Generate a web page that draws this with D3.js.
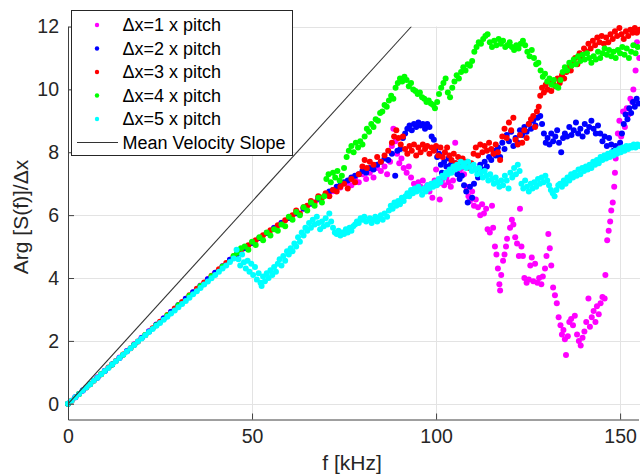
<!DOCTYPE html>
<html>
<head>
<meta charset="utf-8">
<script src="https://cdn.jsdelivr.net/npm/d3@7"></script>
<style>
  body { margin: 0; background: #fff; }
  svg { display: block; font-family: "Liberation Sans", Arial, sans-serif; }
</style>
</head>
<body>
<div id="chart"></div>
<script>
// ---- data: [f kHz, Arg[S(f)]/dx] ----
const xTicks = [0, 50, 100, 150];
const yTicks = [0, 2, 4, 6, 8, 10, 12];
const seriesNames = ["\u0394x=1 x pitch", "\u0394x=2 x pitch", "\u0394x=3 x pitch", "\u0394x=4 x pitch", "\u0394x=5 x pitch"];
const seriesColors = ["#ff00ff", "#0000ff", "#ff0000", "#00ff00", "#00ffff"];
const lineName = "Mean Velocity Slope";

const dx1 = [[0,0],[2,0.21],[4,0.42],[6,0.63],[8,0.84],[10,1.05],[12,1.26],[14,1.47],[16,1.68],[18,1.89],[20,2.1],[22,2.31],[24,2.52],[26,2.72],[28,2.93],[30,3.14],[32,3.34],[34,3.55],[36,3.76],[38,3.97],[40,4.17],[42,4.38],[44,4.58],
  [46,4.78],[48,4.96],[50,5.12],[52,5.28],[54,5.43],[56,5.6],[58,5.76],[60,5.92],[62,6.06],[64,6.2],[66,6.36],[68,6.5],[70,6.63],[72,6.76],[74,6.88],
  [76,7.0],[77,6.95],[78,7.15],[79,7.05],[80,7.3],[81,7.15],[82,7.35],[83,7.2],[84,7.5],[85,7.4],[86,7.55],[86.7,7.3],[87.5,7.7],[88,8.2],[88.4,8.75],[89,8.35],[89.4,7.95],[90,7.65],[90.6,7.8],[91.2,7.5],[92,7.35],[92.6,7.55],[93.2,7.2],[94,7.0],[94.6,6.85],[95.2,7.05],[95.8,6.9],[96.4,7.1],[97,6.85],[97.6,6.95],[98.2,6.75],[99,6.55],[99.6,7.1],[100,7.45],[100.6,7.0],[101,6.5],[101.6,7.1],[102.2,6.95],[102.8,7.2],[103.4,7.05],[104,6.9],[104.6,7.1],[105.2,8.3],[105.8,7.6],[106.4,7.4],[107,7.5],[107.6,7.3],[108.2,6.9],[108.8,6.6],[109.2,6.45],[109.8,6.75],[110.3,6.3],[110.8,6.5],[111.4,6.25],[112,6.0],[112.5,6.35],[113,6.05],[113.6,6.2],[114,5.55],[114.6,5.45],[115.2,6.3],[115.5,5.6],[116,5.0],[116.4,4.75],[116.8,4.3],[117.2,3.8],[117.4,3.6],[117.7,4.1],[118.2,4.55],[118.6,4.75],[119,5.0],[119.3,5.25],[120.1,5.6],[120.6,5.85],[121,5.7],[121.5,5.3],[122,5.1],[122.5,4.7],[122.8,6.2],[123.2,5.0],[123.6,4.7],[124,4.0],[124.6,3.85],[125.2,3.95],[125.6,4.4],[126,4.65],[126.4,3.9],[126.9,4.45],[127.5,3.85],[128,4.0],[128.6,3.8],[129,4.05],[129.6,4.3],[130,4.7],[130.5,5.4],[130.9,4.95],[131.3,4.4],[131.8,3.7],[132.3,3.45],[132.8,3.2],[133.3,2.75],[133.8,2.5],[134.2,2.2],[134.6,2.35],[135,2.05],[135.3,1.55],[135.8,2.15],[136.2,2.6],[136.7,2.7],[137.2,2.5],[137.7,2.8],[138.3,2.2],[138.8,2.0],[139.3,1.85],[139.8,2.1],[140.3,2.3],[140.8,2.6],[141.4,3.35],[141.8,2.45],[142.3,2.75],[142.8,2.95],[143.3,2.6],[143.7,3.1],[144.2,2.85],[144.7,3.2],[145.2,3.4],[145.8,3.35],[146,4.1],[146.5,5.2],[146.9,5.5],[147.3,5.8],[147.6,6.15],[148,6.4],[148.4,6.9],[148.6,7.35],[148.8,7.8],[149,8.0],[149.4,8.6],[149.8,9.0],[150.3,8.5],[150.8,9.3],[151.3,8.8],[151.8,9.4],[152.3,9.2],[152.8,9.7],[153.3,9.6],[153.6,10.0],[154.2,10.6],[154.6,11.5],[155.2,11.0]];

const dx2 = [[0,0],[2,0.21],[4,0.42],[6,0.62],[8,0.83],[10,1.04],[12,1.25],[14,1.46],[16,1.67],[18,1.88],[20,2.09],[22,2.3],[24,2.51],[26,2.71],[28,2.92],[30,3.13],[32,3.34],[34,3.55],[36,3.75],[38,3.96],[40,4.17],[42,4.37],[44,4.58],[46,4.77],[48,4.95],[50,5.11],[52,5.27],[54,5.43],[56,5.59],[58,5.75],[60,5.91],[62,6.06],[64,6.21],[66,6.37],[68,6.52],
  [70,6.65],[71,6.75],[72,6.8],[73,6.9],[74,6.95],[75,7.05],[76,7.1],[77,7.2],[78,7.25],[79,7.3],[80,7.4],[81,7.35],[82,7.5],[83,7.45],[84,7.6],[85,7.7],[86,7.8],[87,7.75],[88,7.95],[88.9,7.25],[89.5,8.05],[90.3,8.1],[91,8.45],[91.6,8.6],[92.2,8.75],[92.8,8.85],[93.4,8.7],[94,8.9],[94.6,8.8],[95.2,8.95],[95.8,8.85],[96.4,8.9],[97,8.75],[97.6,8.9],[98.2,8.8],[98.8,8.5],[99.4,8.4],[99.8,8.1],[100.3,7.85],[100.8,7.95],[101.3,7.6],[101.6,7.35],[102.2,7.7],[102.8,7.55],[103.4,7.8],[104,7.6],[104.6,7.45],[105.2,7.65],[105.8,7.3],[106.4,7.15],[107,7.25],[107.6,6.95],[108.2,6.75],[108.6,6.4],[109.2,6.9],[109.8,6.55],[110.3,7.0],[110.8,7.45],[111.4,7.2],[112,7.6],[112.6,7.45],[113.2,7.7],[113.8,7.55],[114.4,7.85],[115,7.75],[115.6,8.05],[116.2,7.9],[116.8,8.15],[117.4,7.85],[118,8.3],[118.6,8.1],[119.2,8.55],[119.8,8.35],[120.4,8.65],[121,8.2],[121.6,8.45],[122.2,8.3],[122.8,8.7],[123.4,8.55],[124,8.8],[124.6,8.65],[125.2,8.9],[125.8,8.75],[126.4,9.0],[127,8.85],[127.6,9.1],[128.3,9.15],[128.8,8.9],[129.3,8.6],[129.8,8.3],[130.3,8.45],[130.8,8.25],[131.3,8.6],[131.8,8.35],[132.4,8.5],[132.9,8.7],[133.4,8.3],[134,8.0],[134.5,8.45],[135,8.6],[135.6,8.5],[136.2,8.8],[136.8,8.55],[137.4,8.7],[138,8.95],[138.6,8.6],[139.2,8.75],[139.8,8.5],[140.4,8.9],[141,8.65],[141.6,8.8],[142.2,9.0],[142.8,8.75],[143.4,8.6],[144,8.85],[144.6,8.6],[145.2,8.35],[145.8,8.5],[146.4,8.2],[147,8.45],[147.6,8.25],[148.2,8.05],[148.8,8.2],[149.4,8.0],[150,8.3],[150.5,8.6],[151,8.9],[151.5,9.2],[152,9.05],[152.5,9.4],[153,9.25],[153.5,9.6],[154,9.45],[154.5,9.7],[155,9.55]];

const dx3 = [[1,0.1],[3,0.31],[5,0.52],[7,0.73],[9,0.94],[11,1.15],[13,1.36],[15,1.57],[17,1.77],[19,1.98],[21,2.19],[23,2.4],[25,2.61],[27,2.82],[29,3.03],[31,3.24],[33,3.45],[35,3.66],[37,3.86],[39,4.07],[41,4.28],[43,4.48],[45,4.69],[47,4.88],[49,5.04],[51,5.2],[53,5.36],[55,5.52],[57,5.68],[59,5.84],[61,6.0],[62,6.15],[63,6.05],
  [64,6.25],[65,6.3],[66,6.45],[67,6.4],[68,6.6],[69,6.55],[70,6.7],[71,6.6],[72,6.8],[73,6.75],[74,6.9],[75,7.0],[76,6.85],[77,7.15],[78,7.05],[79,7.3],[80,7.55],[80.6,7.75],[81.2,7.5],[82,7.7],[83,7.6],[84,7.85],[85,7.7],[86,7.9],[87,8.05],[88,8.3],[88.6,8.5],[89.2,8.7],[89.8,8.45],[90.4,8.25],[91,8.5],[91.6,8.1],[92.2,7.95],[92.8,8.2],[93.4,8.05],[94,8.25],[94.6,7.9],[95.2,8.15],[95.8,8.0],[96.4,8.25],[97,8.1],[97.6,8.2],[98.2,7.95],[98.8,8.15],[99.4,8.05],[100,8.2],[100.6,7.9],[101.2,8.15],[101.8,7.85],[102.4,8.0],[103,8.15],[103.6,7.9],[104.2,7.75],[104.8,7.95],[105.4,7.65],[106,7.85],[106.6,7.6],[107.2,7.8],[107.8,7.55],[108.4,7.7],[109,7.5],[109.6,7.65],[110.2,7.95],[110.8,8.15],[111.4,7.9],[112,8.25],[112.6,8.0],[113.2,8.2],[113.8,8.05],[114.4,8.3],[115,8.1],[115.6,7.95],[116.2,8.25],[116.8,8.0],[117.4,7.75],[118,8.5],[118.6,8.75],[119.2,8.45],[119.8,8.95],[120.4,8.7],[121,9.1],[121.6,8.4],[122.2,8.25],[122.8,8.55],[123.4,8.3],[124,8.7],[124.6,8.45],[125.2,8.9],[125.8,9.05],[126.4,9.15],[126.9,8.8],[127.4,9.3],[127.9,9.45],[128.3,9.8],[128.8,10.05],[129.3,9.9],[129.8,10.15],[130.3,10.0],[130.8,10.25],[131.3,9.95],[131.8,10.2],[132.4,10.1],[133,10.35],[133.6,10.2],[134.2,10.45],[134.8,10.35],[135.4,10.55],[136,10.7],[136.6,10.6],[137.2,10.85],[137.8,11.0],[138.4,10.8],[139,11.15],[139.6,11.05],[140.2,11.3],[140.8,11.2],[141.4,11.45],[142,11.3],[142.6,11.55],[143.2,11.4],[143.8,11.65],[144.4,11.5],[145,11.7],[145.6,11.45],[146.2,11.65],[146.8,11.5],[147.4,11.75],[148,11.6],[148.6,11.85],[149.2,11.7],[149.8,11.95],[150.4,11.75],[151,11.6],[151.6,11.85],[152.2,11.7],[152.8,11.9],[153.4,11.8],[154,11.95],[154.6,11.8],[155.2,11.9]];

const dx4 = [[0,0],[3,0.31],[6,0.62],[9,0.94],[12,1.25],[15,1.56],[18,1.88],[21,2.19],[24,2.5],[27,2.81],[30,3.13],[33,3.44],[36,3.75],[39,4.06],[42,4.37],
  [45,4.7],[46,4.8],[47,4.95],[48,5.0],[49,4.9],[50,5.15],[51,5.05],[52,5.3],[53,5.2],[54,5.45],[55,5.35],[56,5.55],[57,5.5],[58,5.7],[59,5.65],[60,5.95],[61,5.85],[62,6.1],[63,6.0],[64,6.25],[65,6.15],[66,6.4],[67,6.3],[68,6.55],[69,6.4],[69.6,6.6],[70.2,7.15],[70.8,7.3],[71.4,7.05],[72,7.35],[72.6,7.2],[73.2,7.4],[73.8,7.1],[74.4,7.25],[75,7.5],[75.7,7.85],[76.3,8.05],[77,8.2],[77.6,8.0],[78.2,8.3],[78.8,8.15],[79.4,8.35],[80,8.25],[80.6,8.5],[81.2,8.75],[81.8,8.65],[82.4,8.9],[83,8.8],[83.6,9.05],[84.2,9.0],[84.8,9.25],[85.4,9.3],[86,9.5],[86.6,9.45],[87.2,9.65],[87.8,9.8],[88.4,9.7],[89,10.05],[89.6,10.2],[90.2,10.35],[90.8,10.25],[91.4,10.4],[92,10.3],[92.6,10.1],[93.2,10.2],[93.8,10.0],[94.4,9.95],[95,9.85],[95.6,9.9],[96.2,9.75],[96.8,9.7],[97.4,9.6],[98,9.65],[98.6,9.55],[99.2,9.5],[99.7,9.4],[100.3,9.6],[100.8,9.85],[101.4,10.05],[102,10.2],[102.6,10.35],[103.2,9.9],[103.8,9.75],[104.4,10.05],[105,10.25],[105.6,10.45],[106.2,10.35],[106.8,10.55],[107.4,10.7],[108,10.6],[108.6,10.8],[109.2,10.75],[109.8,10.9],[110.4,11.2],[111,11.35],[111.6,11.5],[112.2,11.45],[112.8,11.6],[113.4,11.7],[114,11.75],[114.6,11.5],[115.2,11.35],[115.8,11.55],[116.4,11.4],[117,11.6],[117.6,11.45],[118.2,11.55],[118.8,11.35],[119.4,11.4],[120,11.5],[120.6,11.35],[121.2,11.25],[121.8,11.4],[122.4,11.3],[123,11.45],[123.6,11.55],[124.2,11.4],[124.8,11.2],[125.4,11.05],[126,11.25],[126.6,11.0],[127.2,10.8],[127.8,10.85],[128.4,10.6],[129,10.4],[129.6,10.5],[130.2,10.25],[130.8,10.35],[131.4,10.15],[132,10.3],[132.6,10.1],[133.2,10.05],[133.8,10.3],[134.4,10.55],[135,10.7],[135.6,10.6],[136.2,10.85],[136.8,10.75],[137.4,10.95],[138,10.8],[138.6,11.05],[139.2,10.9],[139.8,11.1],[140.4,10.95],[141,11.15],[141.6,11.0],[142.2,10.85],[142.8,11.05],[143.4,10.95],[144,11.2],[144.6,11.0],[145.2,11.15],[145.8,11.3],[146.4,11.1],[147,11.25],[147.6,11.05],[148.2,11.2],[148.8,11.0],[149.4,11.25],[150,11.15],[150.6,11.35],[151.2,11.1],[151.8,11.3],[152.4,11.0],[153,11.2],[153.6,11.4],[154.2,11.15],[154.8,11.35]];

const dx5 = [[0,0],[1,0.1],[2,0.21],[3,0.31],[4,0.42],[5,0.52],[6,0.62],[7,0.73],[8,0.83],[9,0.94],[10,1.04],[11,1.14],[12,1.25],[13,1.35],[14,1.46],[15,1.56],[16,1.66],[17,1.77],[18,1.87],[19,1.98],[20,2.08],[21,2.18],[22,2.28],[23,2.38],[24,2.48],[25,2.57],[26,2.67],[27,2.77],[28,2.87],[29,2.97],[30,3.07],[31,3.17],[32,3.27],[33,3.37],[34,3.48],[35,3.58],[36,3.68],[37,3.79],[38,3.89],[39,3.99],[40,4.1],[41,4.2],[42,4.3],[43,4.4],[44,4.51],[45,4.62],
  [45.8,4.9],[46.3,4.6],[46.8,4.4],[47.3,4.75],[47.8,4.5],[48.3,4.3],[48.8,4.55],[49.3,4.2],[49.8,4.45],[50.3,4.1],[50.8,4.35],[51.3,3.95],[51.8,4.15],[52.3,3.85],[52.6,3.75],[53,4.05],[53.5,3.9],[54,4.15],[54.5,4.0],[55,4.25],[55.5,4.1],[56,4.35],[56.5,4.2],[57,4.45],[57.5,4.6],[58,4.4],[58.5,4.7],[59,4.55],[59.5,4.85],[60,4.75],[60.5,4.95],[61,4.85],[61.5,5.1],[62,5.0],[62.5,5.3],[63,5.15],[63.5,5.45],[64,5.35],[64.5,5.6],[65,5.5],[65.5,5.75],[66,5.6],[66.5,5.85],[67,5.7],[67.6,5.95],[68,5.75],[68.5,5.55],[69,5.8],[69.5,5.65],[70,5.9],[70.5,5.7],[71,6.05],[71.5,5.8],[72,5.6],[72.5,5.45],[73,5.4],[73.5,5.5],[74,5.35],[74.5,5.45],[75,5.4],[75.5,5.55],[76,5.45],[76.5,5.6],[77,5.5],[77.5,5.65],[78,5.7],[78.5,5.8],[79,5.75],[79.5,5.9],[80,5.85],[80.5,5.95],[81,5.8],[82,5.9],[82.5,5.75],[83,5.85],[83.5,5.95],[84,5.8],[84.5,5.9],[85,6.0],[85.5,5.85],[86,6.05],[86.7,5.95],[87.2,6.15],[87.7,6.3],[88.2,6.2],[88.7,6.4],[89.2,6.3],[89.7,6.45],[90.2,6.35],[90.7,6.55],[91.2,6.45],[91.7,6.6],[92.2,6.7],[92.7,6.6],[93.2,6.8],[93.7,6.7],[94.2,6.85],[94.7,6.75],[95.2,6.9],[95.7,6.8],[96.2,6.65],[96.7,6.85],[97.2,6.75],[97.7,6.95],[98.2,6.85],[98.7,7.0],[99.2,6.9],[99.7,7.05],[100.2,6.95],[100.7,7.15],[101.2,7.05],[101.7,7.25],[102.2,7.2],[102.7,7.35],[103.2,7.3],[103.7,7.45],[104.2,7.35],[104.7,7.55],[105.2,7.45],[105.7,7.6],[106.2,7.5],[106.7,7.7],[107.2,7.55],[107.7,7.65],[108.2,7.5],[108.7,7.7],[109.2,7.55],[109.7,7.4],[110.2,7.6],[110.7,7.45],[111.2,7.3],[111.7,7.5],[112.2,7.35],[112.7,7.2],[113.2,7.4],[113.7,7.25],[114.2,7.1],[114.7,7.3],[115.2,7.15],[115.7,7.0],[116.2,7.2],[116.7,7.05],[117.2,6.9],[117.7,7.1],[118.2,6.95],[118.7,7.25],[119.2,7.1],[119.7,6.85],[120.2,7.35],[120.7,7.2],[121.2,7.5],[121.7,7.3],[122.2,7.6],[122.7,7.4],[123.2,7.0],[123.7,6.85],[124.2,7.1],[124.7,6.9],[125.2,6.75],[125.7,7.0],[126.2,6.85],[126.7,7.05],[127.2,6.9],[127.7,7.15],[128.2,7.0],[128.7,7.2],[129.2,7.05],[129.7,7.25],[130.2,7.1],[130.7,6.95],[131.2,6.8],[131.7,6.7],[132.2,6.6],[132.7,6.8],[133.2,6.95],[133.7,7.0],[134.2,6.9],[134.7,7.1],[135.2,7.0],[135.7,7.2],[136.2,7.1],[136.7,7.3],[137.2,7.2],[137.7,7.35],[138.2,7.25],[138.7,7.45],[139.2,7.3],[139.7,7.5],[140.2,7.4],[140.7,7.55],[141.2,7.45],[141.7,7.6],[142.2,7.5],[142.7,7.7],[143.2,7.6],[143.7,7.75],[144.2,7.65],[144.7,7.85],[145.2,7.75],[145.7,7.9],[146.2,7.8],[146.7,7.95],[147.2,7.85],[147.7,8.0],[148.2,7.9],[148.7,8.05],[149.2,7.95],[149.7,8.1],[150.2,8.0],[150.7,8.15],[151.2,8.05],[151.7,8.2],[152.2,8.1],[152.7,8.2],[153.2,8.15],[153.7,8.25],[154.2,8.15],[154.7,8.25],[155.2,8.2]];

const slopeLine = [[0, 0], [93.3, 12]];

const series = [dx1, dx2, dx3, dx4, dx5];

// ---- layout ----
const width = 640, height = 476;
const x = d3.scaleLinear().domain([0, 155]).range([68, 638.5]);
const y = d3.scaleLinear().domain([-0.5, 12]).range([419.5, 26.5]);

const svg = d3.select('#chart').append('svg')
  .attr('width', width).attr('height', height);

svg.append('clipPath').attr('id', 'plot')
  .append('rect').attr('x', 68).attr('y', 26.5).attr('width', 575).attr('height', 393);

// grid
const grid = svg.append('g').attr('stroke', '#e3e3e3').attr('stroke-width', 1);
grid.selectAll('.gx').data(xTicks).join('line')
  .attr('x1', d => Math.round(x(d)) + 0.5).attr('x2', d => Math.round(x(d)) + 0.5)
  .attr('y1', y(12)).attr('y2', y(-0.5));
grid.selectAll('.gy').data(yTicks).join('line')
  .attr('y1', d => Math.round(y(d)) + 0.5).attr('y2', d => Math.round(y(d)) + 0.5)
  .attr('x1', x(0)).attr('x2', 640);

// scatter series (first plotted at the bottom)
series.forEach((pts, i) => {
  svg.append('g').attr('fill', seriesColors[i])
    .selectAll('circle').data(pts).join('circle')
    .attr('cx', d => x(d[0])).attr('cy', d => y(d[1])).attr('r', 3);
});

// mean velocity slope
svg.append('path')
  .datum(slopeLine)
  .attr('clip-path', 'url(#plot)')
  .attr('fill', 'none').attr('stroke', '#333').attr('stroke-width', 1.1)
  .attr('d', d3.line().x(d => x(d[0])).y(d => y(d[1])));

// axes
const xAxis = svg.append('g').attr('transform', `translate(0,${y(-0.5)})`)
  .call(d3.axisBottom(x).tickValues(xTicks).tickFormat(d3.format('d'))
    .tickSizeInner(-6).tickSizeOuter(0).tickPadding(10));
const yAxis = svg.append('g').attr('transform', `translate(${x(0)},0)`)
  .call(d3.axisLeft(y).tickValues(yTicks).tickFormat(d3.format('d'))
    .tickSizeInner(-6).tickSizeOuter(0).tickPadding(9));
[xAxis, yAxis].forEach(a => {
  a.select('.domain').attr('stroke', '#404040');
  a.selectAll('.tick line').attr('stroke', '#404040');
  a.selectAll('.tick text').attr('fill', '#262626')
    .style('font-size', '19.5px').style('font-family', '"Liberation Sans", Arial, sans-serif');
});

// axis labels
svg.append('text').attr('x', 352).attr('y', 470).attr('text-anchor', 'middle')
  .attr('fill', '#262626').style('font-size', '21px').text('f [kHz]');
svg.append('text').attr('transform', 'translate(28,217) rotate(-90)')
  .attr('text-anchor', 'middle').attr('fill', '#262626').style('font-size', '21px')
  .text('Arg [S(f)]/\u0394x');

// legend
const leg = svg.append('g');
leg.append('rect').attr('x', 71.5).attr('y', 10.5).attr('width', 221).attr('height', 145)
  .attr('fill', '#fff').attr('stroke', '#262626').attr('stroke-width', 1);
const rowY = i => 25 + i * 23.5;
seriesNames.forEach((name, i) => {
  leg.append('circle').attr('cx', 97).attr('cy', rowY(i)).attr('r', 2.2).attr('fill', seriesColors[i]);
  leg.append('text').attr('x', 122.5).attr('y', rowY(i)).attr('dy', '0.36em')
    .attr('fill', '#000').style('font-size', '18px').text(name);
});
leg.append('line').attr('x1', 77).attr('x2', 118).attr('y1', rowY(5)).attr('y2', rowY(5))
  .attr('stroke', '#333').attr('stroke-width', 1);
leg.append('text').attr('x', 122.5).attr('y', rowY(5)).attr('dy', '0.36em')
  .attr('fill', '#000').style('font-size', '18px').text(lineName);
</script>
</body>
</html>
